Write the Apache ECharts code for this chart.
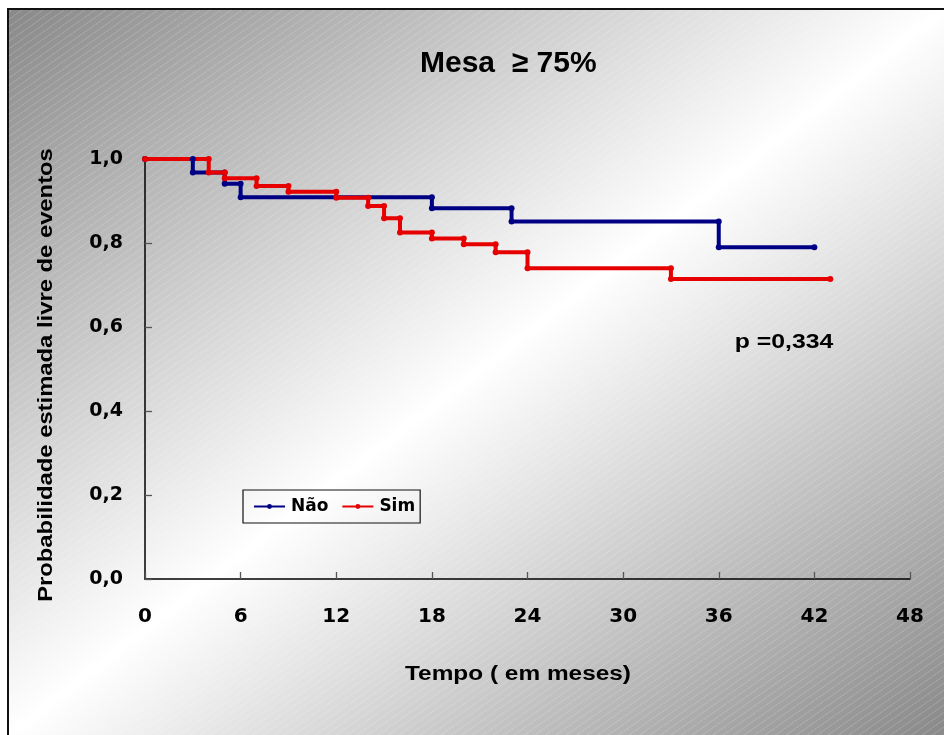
<!DOCTYPE html>
<html>
<head>
<meta charset="utf-8">
<script src="https://cdn.jsdelivr.net/npm/echarts@6/dist/echarts.min.js"></script>
<style>
  html, body { margin:0; padding:0; width:944px; height:735px; overflow:hidden; background:#fff; }
  #frame {
    position:absolute; left:7px; top:8px; width:937px; height:727px;
    border-top:2px solid #111; border-left:2px solid #111; box-sizing:border-box;
    background:
      repeating-linear-gradient(-35deg, rgba(255,255,255,0.12) 0px, rgba(255,255,255,0.12) 1px, rgba(255,255,255,0) 1.5px, rgba(255,255,255,0) 6px),
      linear-gradient(to bottom right, #898989 0%, #ffffff 50%, #898989 100%);
  }
  #chart { position:absolute; left:0; top:0; width:944px; height:735px; }
</style>
</head>
<body>
<div id="frame"></div>
<div id="chart"></div>
<script>
// ---- data ----
var xTicks = [0, 6, 12, 18, 24, 30, 36, 42, 48];
var yTicks = ['0,0', '0,2', '0,4', '0,6', '0,8', '1,0'];
var naoTimes = [0, 3, 5, 6, 18, 23, 36, 42];
var naoSurv  = [1.000, 0.968, 0.941, 0.909, 0.883, 0.851, 0.790, 0.790];
var simTimes = [0, 4, 5, 7, 9, 12, 14, 15, 16, 18, 20, 22, 24, 33, 43];
var simSurv  = [1.000, 0.968, 0.954, 0.936, 0.922, 0.908, 0.888, 0.859, 0.825, 0.811, 0.797, 0.778, 0.740, 0.714, 0.714];
var seriesNames = ['Não', 'Sim'];
var titleText = 'Mesa  \u2265 75%';
var xName = 'Tempo ( em meses)';
var yName = 'Probabilidade estimada livre de eventos';
var pText = 'p =0,334';

// Kaplan-Meier step points (vertex at both corners of each drop)
function kmPoints(times, surv) {
  var pts = [[times[0], surv[0]]];
  for (var i = 1; i < times.length; i++) {
    if (surv[i] !== surv[i - 1]) pts.push([times[i], surv[i - 1]]);
    pts.push([times[i], surv[i]]);
  }
  return pts;
}

var FONT = '"Liberation Sans", Arial, sans-serif';
var WIDE = '"DejaVu Sans", "Liberation Sans", sans-serif';
var chart = echarts.init(document.getElementById('chart'), null, { renderer: 'canvas' });
chart.setOption({
  animation: false,
  backgroundColor: 'transparent',
  title: {
    text: titleText, left: 420, top: 49, padding: 0,
    textStyle: { fontFamily: FONT, fontWeight: 'bold', fontSize: 30, color: '#000' }
  },
  grid: { left: 145, right: 34, top: 159, bottom: 156, containLabel: false },
  legend: {
    left: 243, top: 490, orient: 'horizontal',
    padding: [8, 5, 8, 10], itemGap: 13, itemWidth: 31, itemHeight: 6,
    borderColor: '#111', borderWidth: 1.2, backgroundColor: 'transparent',
    textStyle: { fontFamily: WIDE, fontWeight: 'bold', fontSize: 17, color: '#000', padding: [0, 0, 0, 1] },
    data: seriesNames
  },
  xAxis: {
    type: 'value', min: 0, max: 48, interval: 6,
    axisLine: { lineStyle: { color: '#000', width: 1.5 } },
    axisTick: { inside: true, length: 7, lineStyle: { color: '#555', width: 1.3 } },
    axisLabel: { margin: 28, fontFamily: WIDE, fontWeight: 'bold', fontSize: 20, color: '#000',
      formatter: function (v) { return String(v); } },
    splitLine: { show: false }
  },
  yAxis: {
    type: 'value', min: 0, max: 1, interval: 0.2,
    axisLine: { show: true, lineStyle: { color: '#000', width: 1.5 } },
    axisTick: { show: true, inside: true, length: 7, lineStyle: { color: '#555', width: 1.3 } },
    axisLabel: { margin: 22, fontFamily: WIDE, fontWeight: 'bold', fontSize: 19, color: '#000',
      formatter: function (v) { return yTicks[Math.round(v / 0.2)]; } },
    splitLine: { show: false }
  },
  graphic: [
    { type: 'text', x: 518, y: 674, scaleX: 1.22, z: 10,
      style: { text: xName, x: 0, y: 0, textAlign: 'center', textVerticalAlign: 'middle',
        font: 'bold 20px ' + FONT, fill: '#000' } },
    { type: 'text', x: 46, y: 375, rotation: Math.PI / 2, scaleX: 1.19, z: 10,
      style: { text: yName, x: 0, y: 0, textAlign: 'center', textVerticalAlign: 'middle',
        font: 'bold 20px ' + FONT, fill: '#000' } },
    { type: 'text', x: 784, y: 342, scaleX: 1.24, z: 10,
      style: { text: pText, x: 0, y: 0, textAlign: 'center', textVerticalAlign: 'middle',
        font: 'bold 20px ' + FONT, fill: '#000' } }
  ],
  series: [
    { name: seriesNames[0], type: 'line', data: kmPoints(naoTimes, naoSurv),
      color: '#000085', symbol: 'circle', symbolSize: 6, showAllSymbol: true,
      lineStyle: { width: 4, color: '#000085', join: 'round' }, itemStyle: { color: '#000085' } },
    { name: seriesNames[1], type: 'line', data: kmPoints(simTimes, simSurv),
      color: '#e60000', symbol: 'circle', symbolSize: 6, showAllSymbol: true, z: 3,
      lineStyle: { width: 4, color: '#e60000', join: 'round' }, itemStyle: { color: '#e60000' } }
  ]
});
</script>
</body>
</html>
